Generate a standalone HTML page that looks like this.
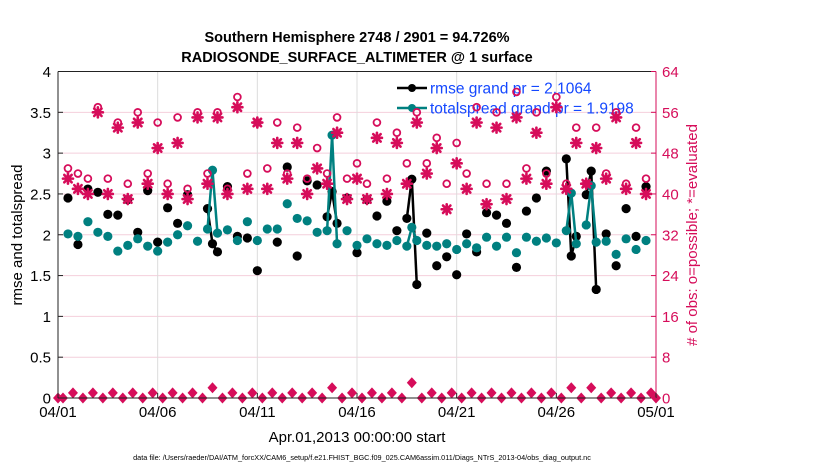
<!DOCTYPE html>
<html><head><meta charset="utf-8">
<style>
body{margin:0;background:#fff;}
svg{display:block;font-family:"Liberation Sans",sans-serif;}
</style></head>
<body>
<svg id="chart" width="830" height="470" viewBox="0 0 830 470" xmlns="http://www.w3.org/2000/svg">
<text x="357" y="42" text-anchor="middle" font-size="14.5" font-weight="bold">Southern Hemisphere 2748 / 2901 = 94.726%</text>
<text x="357" y="62" text-anchor="middle" font-size="14.5" font-weight="bold">RADIOSONDE_SURFACE_ALTIMETER @ 1 surface</text>
<g id="grid"></g>
<g id="marks"></g>
<g id="axes"></g>
<text transform="translate(22,235) rotate(-90)" text-anchor="middle" font-size="15">rmse and totalspread</text>
<text transform="translate(697,235) rotate(-90)" text-anchor="middle" font-size="15" fill="#d60d5a"># of obs: o=possible; *=evaluated</text>
<text x="357" y="442" text-anchor="middle" font-size="15">Apr.01,2013 00:00:00 start</text>
<text x="362" y="460" text-anchor="middle" font-size="7.3">data file: /Users/raeder/DAI/ATM_forcXX/CAM6_setup/f.e21.FHIST_BGC.f09_025.CAM6assim.011/Diags_NTrS_2013-04/obs_diag_output.nc</text>
</svg>
<script>
const rmseDays=[0.5,1.0,1.5,2.0,2.5,3.0,3.5,4.0,4.5,5.0,5.5,6.0,6.5,7.5,7.75,8.0,8.5,9.0,9.5,10.0,11.0,11.5,12.0,12.5,13.0,13.5,13.75,14.0,14.5,15.0,15.5,16.0,16.5,17.0,17.5,17.75,18.0,18.5,19.0,19.5,20.0,20.5,21.0,21.5,22.0,22.5,23.0,23.5,24.0,24.5,25.5,25.75,26.0,26.5,26.75,27.0,27.5,28.0,28.5,29.0,29.5];
const rmseVals=[2.45,1.88,2.56,2.52,2.25,2.24,2.43,2.03,2.54,1.91,2.33,2.14,2.49,2.32,1.89,1.79,2.59,1.98,1.96,1.56,1.91,2.83,1.74,2.66,2.61,2.22,2.53,2.14,2.45,1.78,2.43,2.23,2.41,2.05,2.20,2.68,1.39,2.02,1.62,1.73,1.51,2.01,1.79,2.27,2.24,2.14,1.60,2.29,2.45,2.78,2.93,1.74,1.98,2.49,2.78,1.33,2.01,1.62,2.32,1.98,2.59];
const spreadDays=[0.5,1.0,1.5,2.0,2.5,3.0,3.5,4.0,4.5,5.0,5.5,6.0,6.5,7.0,7.5,7.75,8.0,8.5,9.0,9.5,10.0,10.5,11.0,11.5,12.0,12.5,13.0,13.5,13.75,14.0,14.5,15.0,15.5,16.0,16.5,17.0,17.5,17.75,18.0,18.5,19.0,19.5,20.0,20.5,21.0,21.5,22.0,22.5,23.0,23.5,24.0,24.5,25.0,25.5,25.75,26.0,26.5,26.75,27.0,27.5,28.0,28.5,29.0,29.5];
const spreadVals=[2.01,1.98,2.16,2.03,1.98,1.80,1.87,1.95,1.86,1.80,1.91,2.00,2.11,1.92,2.07,2.79,2.02,2.06,1.93,2.16,1.93,2.07,2.07,2.38,2.20,2.17,2.03,2.05,3.22,1.89,2.05,1.87,1.95,1.89,1.87,1.93,1.86,2.09,1.93,1.87,1.86,1.89,1.82,1.89,1.84,1.97,1.86,1.97,1.78,1.97,1.92,1.96,1.90,2.05,2.51,1.89,2.12,2.60,1.91,1.92,1.76,1.95,1.82,1.93];
const countDays=[0.5,1.0,1.5,2.0,2.5,3.0,3.5,4.0,4.5,5.0,5.5,6.0,6.5,7.0,7.5,8.0,8.5,9.0,9.5,10.0,10.5,11.0,11.5,12.0,12.5,13.0,13.5,14.0,14.5,15.0,15.5,16.0,16.5,17.0,17.5,18.0,18.5,19.0,19.5,20.0,20.5,21.0,21.5,22.0,22.5,23.0,23.5,24.0,24.5,25.0,25.5,26.0,26.5,27.0,27.5,28.0,28.5,29.0,29.5];
const possibleCounts=[45,44,43,57,43,54,42,56,44,54,42,55,41,56,44,56,41,59,44,54,45,54,44,53,43,49,44,55,43,46,42,54,43,52,46,56,46,51,42,50,44,57,42,56,42,60,45,56,44,59,42,53,42,53,44,56,42,53,43];
const evaluatedCounts=[43,41,40,56,40,53,39,54,42,49,40,50,39,55,42,55,40,57,41,54,41,50,43,50,40,45,42,52,39,43,39,51,40,50,42,54,44,49,37,46,41,54,38,53,39,55,43,52,42,57,41,50,42,49,43,55,41,50,40];
const smallDays=[0,0.25,0.75,1.25,1.75,2.25,2.75,3.25,3.75,4.25,4.75,5.25,5.75,6.25,6.75,7.25,7.75,8.25,8.75,9.25,9.75,10.25,10.75,11.25,11.75,12.25,12.75,13.25,13.75,14.25,14.75,15.25,15.75,16.25,16.75,17.25,17.75,18.25,18.75,19.25,19.75,20.25,20.75,21.25,21.75,22.25,22.75,23.25,23.75,24.25,24.75,25.25,25.75,26.25,26.75,27.25,27.75,28.25,28.75,29.25,29.75,30];
const smallCounts=[0,0,1,0,1,0,1,0,1,0,1,0,1,0,1,0,2,0,1,0,1,0,1,0,1,0,1,0,2,0,1,0,1,0,1,0,3,0,1,0,1,0,1,0,1,0,1,0,1,0,1,0,2,0,2,0,1,0,1,0,1,0];
const xTickDays=[0,5,10,15,20,25,30];
const xTickLabels=["04/01","04/06","04/11","04/16","04/21","04/26","05/01"];
const leftTicks=[0,0.5,1,1.5,2,2.5,3,3.5,4];
const leftTickLabels=["0","0.5","1","1.5","2","2.5","3","3.5","4"];
const rightTicks=[0,8,16,24,32,40,48,56,64];

const NS="http://www.w3.org/2000/svg";
const X0=58,X1=656,Y0=398,Y1=71.5;
const PINK="#d60d5a",TEAL="#008080";
function xs(d){return X0+(d/30)*(X1-X0);}
function yl(v){return Y0-(v/4)*(Y0-Y1);}
function yr(c){return Y0-(c/64)*(Y0-Y1);}
function mk(tag,attrs,parent){const e=document.createElementNS(NS,tag);for(const k in attrs)e.setAttribute(k,attrs[k]);parent.appendChild(e);return e;}
const grid=document.getElementById('grid'),marks=document.getElementById('marks'),axes=document.getElementById('axes');

rightTicks.forEach(c=>{if(c>0&&c<64){const l=mk('line',{x1:X0,x2:X1,y1:yr(c),y2:yr(c),stroke:'#f4cfdc','stroke-width':1},grid);

}});
xTickDays.forEach(d=>{if(d>0&&d<30){const l=mk('line',{x1:xs(d),x2:xs(d),y1:Y1,y2:Y0,stroke:'#dcdcdc','stroke-width':1},grid);

}});

function drawSeries(days,vals,color,name){
  for(let i=1;i<days.length;i++){
    if(days[i]-days[i-1]<=0.26){
      const l=mk('line',{x1:xs(days[i-1]),y1:yl(vals[i-1]),x2:xs(days[i]),y2:yl(vals[i]),stroke:color,'stroke-width':2.5},marks);
      
      
    }
  }
  days.forEach((d,i)=>{
    const c=mk('circle',{cx:xs(d),cy:yl(vals[i]),r:4.6,fill:color},marks);
    
    
  });
}
drawSeries(rmseDays,rmseVals,'#000','rmse');
drawSeries(spreadDays,spreadVals,TEAL,'totalspread');

// legend
const lg=mk('g',{},marks);


[['#000','rmse grand pr = 2.1064',88],[TEAL,'totalspread grand pr = 1.9198',108]].forEach(r=>{
  const l=mk('line',{x1:397,x2:427,y1:r[2],y2:r[2],stroke:r[0],'stroke-width':2.5},lg);
  
  
  const c=mk('circle',{cx:412,cy:r[2],r:4,fill:r[0]},lg);
  
  
  const t=mk('text',{x:430,y:r[2]+5.5,'font-size':15.5,fill:'#1448ff'},lg);
  t.textContent=r[1];
  
  
});

countDays.forEach((d,i)=>{
  const x=xs(d),y=yr(evaluatedCounts[i]);
  const g=mk('g',{stroke:PINK,'stroke-width':2.6,'stroke-linecap':'round'},marks);
  
  
  mk('line',{x1:x-5,x2:x+5,y1:y,y2:y},g);
  mk('line',{x1:x,x2:x,y1:y-5,y2:y+5},g);
  mk('line',{x1:x-3.7,x2:x+3.7,y1:y-3.7,y2:y+3.7},g);
  mk('line',{x1:x-3.7,x2:x+3.7,y1:y+3.7,y2:y-3.7},g);
});
countDays.forEach((d,i)=>{
  const c=mk('circle',{cx:xs(d),cy:yr(possibleCounts[i]),r:3.4,fill:'none',stroke:PINK,'stroke-width':1.8},marks);
  
  
});
smallDays.forEach((d,i)=>{
  const x=xs(d),y=yr(smallCounts[i]);
  const p=mk('polygon',{points:`${x},${y-5.5} ${x+5},${y} ${x},${y+5.5} ${x-5},${y}`,fill:PINK},marks);
  
  
});

// axes
const ab=mk('line',{x1:X0,x2:X1,y1:Y0,y2:Y0,stroke:'#222','stroke-width':1},axes);


const at=mk('line',{x1:X0,x2:X1,y1:Y1,y2:Y1,stroke:'#222','stroke-width':1},axes);


const al=mk('line',{x1:X0,x2:X0,y1:Y1,y2:Y0,stroke:'#222','stroke-width':1},axes);


const ar=mk('line',{x1:X1,x2:X1,y1:Y1,y2:Y0,stroke:PINK,'stroke-width':1},axes);


xTickDays.forEach((d,i)=>{
  mk('line',{x1:xs(d),x2:xs(d),y1:Y0,y2:Y0-5,stroke:'#222'},axes);
  const t=mk('text',{x:xs(d),y:417,'text-anchor':'middle','font-size':15},axes);
  t.textContent=xTickLabels[i];
  
  
});
leftTicks.forEach((v,i)=>{
  mk('line',{x1:X0,x2:X0+5,y1:yl(v),y2:yl(v),stroke:'#222'},axes);
  const t=mk('text',{x:51,y:yl(v)+5.5,'text-anchor':'end','font-size':15},axes);
  t.textContent=leftTickLabels[i];
  
  
});
rightTicks.forEach(c=>{
  mk('line',{x1:X1,x2:X1-5,y1:yr(c),y2:yr(c),stroke:PINK},axes);
  const t=mk('text',{x:662,y:yr(c)+5.5,'font-size':15,fill:PINK},axes);
  t.textContent=String(c);
  
  
});
</script>
</body></html>
